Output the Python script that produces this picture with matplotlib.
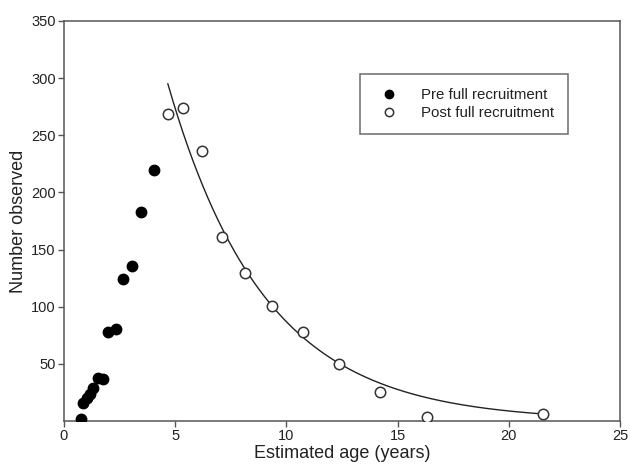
import numpy as np
import matplotlib
matplotlib.use("Agg")
import matplotlib.pyplot as plt

plt.rcParams['font.family'] = ['Liberation Sans', 'DejaVu Sans']

pre_age = [0.76, 0.87, 1.02, 1.17, 1.32, 1.51, 1.77, 1.99, 2.34, 2.67, 3.07, 3.46, 4.05]
pre_num = [1.5, 15.5, 19.8, 23.6, 28.6, 37.9, 36.4, 78, 80.4, 124, 135.5, 182.7, 219.4]

post_age = [4.67, 5.35, 6.20, 7.10, 8.14, 9.35, 10.74, 12.37, 14.2, 16.3, 21.55]
post_num = [268.4, 273.6, 236, 160.8, 129.4, 100.5, 77.8, 49.8, 25.3, 3.5, 6.1]

# fitted exponential decay
fit_start, fit_end = 4.67, 21.6
fit_a, fit_k = 295.0, 0.2294

fig = plt.figure(figsize=(6.3, 4.65), dpi=100)
ax = fig.add_axes([64/630, 1-421/465, 556/630, 400/465])

xc = np.linspace(fit_start, fit_end, 300)
ax.plot(xc, fit_a*np.exp(-fit_k*(xc-fit_start)), color='#222222', lw=1.0, zorder=2)

ax.plot(pre_age, pre_num, 'o', color='black', markersize=7.5, ls='none',
        label='Pre full recruitment', zorder=3)
ax.plot(post_age, post_num, 'o', mfc='white', mec='#333333', mew=1.1, markersize=7.5,
        ls='none', label='Post full recruitment', zorder=3)

ax.set_xlim(0, 25)
ax.set_ylim(0, 350)
ax.set_xticks([0, 5, 10, 15, 20, 25])
ax.set_yticks([50, 100, 150, 200, 250, 300, 350])
for s in ['top', 'right', 'left', 'bottom']:
    ax.spines[s].set_color('#555555')
    ax.spines[s].set_linewidth(1.1)
ax.tick_params(direction='out', length=4, width=1, color='#555555', labelsize=10.5,
               pad=2, labelcolor='#222222')
ax.set_xlabel('Estimated age (years)', fontsize=13, labelpad=1, color='#222222')
ax.set_ylabel('Number observed', fontsize=13, labelpad=3, color='#222222')

leg = ax.legend(loc='upper left', bbox_to_anchor=(0.532, 0.868), fontsize=10.8,
                frameon=True, fancybox=False, edgecolor='#444444', borderpad=0.95,
                handletextpad=1.1, labelspacing=0.25, markerscale=0.8, borderaxespad=0,
                handlelength=2.0)
leg.get_frame().set_linewidth(1.1)
for t in leg.get_texts():
    t.set_color('#222222')

fig.savefig('out.png', dpi=100)
